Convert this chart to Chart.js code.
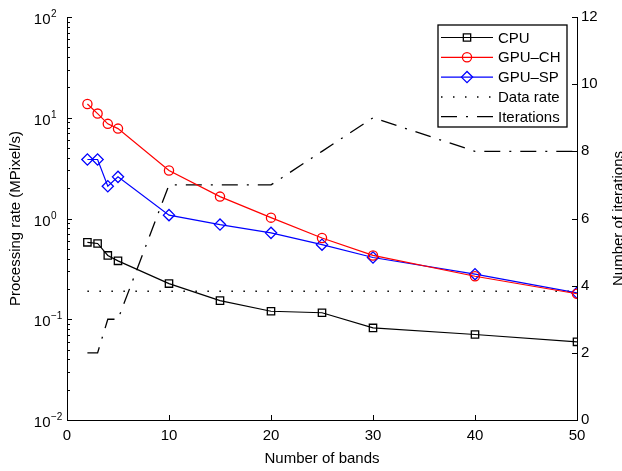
<!DOCTYPE html>
<html>
<head>
<meta charset="utf-8">
<script src="https://cdn.jsdelivr.net/npm/chart.js@4.4.0/dist/chart.umd.min.js"></script>
<style>
  html, body { margin: 0; padding: 0; background: #fff; }
</style>
</head>
<body>
<canvas id="myChart" width="622" height="471"></canvas>
<script>
// values
const bands = [2, 3, 4, 5, 10, 15, 20, 25, 30, 40, 50];
const cpuRate = [0.58, 0.565, 0.43, 0.38, 0.226, 0.153, 0.12, 0.116, 0.082, 0.0706, 0.0597];
const gpuChRate = [13.7, 11.0, 8.7, 7.8, 3.0, 1.65, 1.02, 0.64, 0.43, 0.267, 0.179];
const gpuSpRate = [3.85, 3.85, 2.09, 2.59, 1.08, 0.87, 0.72, 0.55, 0.41, 0.28, 0.183];
const dataRate = [0.19, 0.19, 0.19, 0.19, 0.19, 0.19, 0.19, 0.19, 0.19, 0.19, 0.19];
const iterations = [2, 2, 3, 3, 7, 7, 7, 8, 9, 8, 8];

const xTicks = [0, 10, 20, 30, 40, 50];
const rateTicks = [0.01, 0.1, 1, 10, 100];
const rateExponents = ["\u22122", "\u22121", "0", "1", "2"];
const iterTicks = [0, 2, 4, 6, 8, 10, 12];

const FONT = "'Liberation Sans', Arial, Helvetica, sans-serif";
Chart.defaults.font.family = FONT;
Chart.defaults.font.size = 15;
Chart.defaults.color = "#000";

const pts = (ys) => bands.map((b, i) => ({ x: b, y: ys[i] }));
const clear = "rgba(0,0,0,0)";

// inward tick marks + left "10^n" labels, matlab style
const axisDecor = {
  id: "axisDecor",
  afterDraw(chart) {
    const { ctx, chartArea: a, scales } = chart;
    const x = scales.x, y = scales.y, y1 = scales.y1;
    ctx.save();
    ctx.strokeStyle = "#000";
    ctx.lineWidth = 1;
    ctx.beginPath();
    xTicks.forEach((v) => {
      const px = Math.round(x.getPixelForValue(v)) + 0.5;
      ctx.moveTo(px, a.bottom);
      ctx.lineTo(px, a.bottom - 5);
    });
    for (let e = -2; e < 2; e++) {
      for (let m = 1; m < 10; m++) {
        const py = Math.round(y.getPixelForValue(m * Math.pow(10, e))) + 0.5;
        ctx.moveTo(a.left, py);
        ctx.lineTo(a.left + (m === 1 ? 5 : 3), py);
      }
    }
    const top = Math.round(y.getPixelForValue(100)) + 0.5;
    ctx.moveTo(a.left, top);
    ctx.lineTo(a.left + 5, top);
    iterTicks.forEach((v) => {
      const py = Math.round(y1.getPixelForValue(v)) + 0.5;
      ctx.moveTo(a.right, py);
      ctx.lineTo(a.right - 5, py);
    });
    ctx.stroke();

    ctx.fillStyle = "#000";
    ctx.textBaseline = "alphabetic";
    rateTicks.forEach((v, i) => {
      const py = y.getPixelForValue(v);
      ctx.font = "15px " + FONT;
      ctx.textAlign = "right";
      ctx.fillText("10", 50.5, py + 7);
      ctx.font = "10px " + FONT;
      ctx.textAlign = "left";
      ctx.fillText(rateExponents[i], 51, py);
    });

    // right axis title, reading bottom to top
    ctx.save();
    ctx.translate(623, (a.top + a.bottom) / 2);
    ctx.rotate(-Math.PI / 2);
    ctx.font = "15px " + FONT;
    ctx.textAlign = "center";
    ctx.fillText("Number of iterations", 0, 0);
    ctx.restore();
    ctx.restore();
  },
};

// boxed legend with line + marker samples
const boxLegend = {
  id: "boxLegend",
  afterDraw(chart) {
    const ctx = chart.ctx;
    const bx = 438, by = 25, bw = 129, bh = 102;
    ctx.save();
    ctx.fillStyle = "#fff";
    ctx.fillRect(bx, by, bw, bh);
    ctx.strokeStyle = "#000";
    ctx.lineWidth = 1.3;
    ctx.strokeRect(bx, by, bw, bh);
    chart.data.datasets.forEach((ds, i) => {
      const ry = 37.5 + i * 19.8;
      ctx.save();
      ctx.strokeStyle = ds.borderColor;
      ctx.lineWidth = ds.borderWidth;
      ctx.setLineDash(ds.borderDash || []);
      ctx.beginPath();
      ctx.moveTo(441, ry);
      ctx.lineTo(493, ry);
      ctx.stroke();
      ctx.restore();
      if (ds.pointRadius > 0) {
        ctx.save();
        ctx.strokeStyle = ds.borderColor;
        ctx.fillStyle = clear;
        Chart.helpers.drawPoint(ctx, {
          pointStyle: ds.pointStyle,
          radius: ds.pointRadius,
          rotation: 0,
          borderWidth: ds.pointBorderWidth,
        }, 467, ry);
        ctx.restore();
      }
      ctx.fillStyle = "#000";
      ctx.font = "15px " + FONT;
      ctx.textAlign = "left";
      ctx.textBaseline = "middle";
      ctx.fillText(ds.label, 498, ry + 1);
    });
    ctx.restore();
  },
};

new Chart(document.getElementById("myChart").getContext("2d"), {
  type: "line",
  data: {
    datasets: [
      {
        label: "CPU",
        data: pts(cpuRate),
        yAxisID: "y",
        borderColor: "#000",
        borderWidth: 1.2,
        pointStyle: "rect",
        pointRadius: 5.2,
        pointBorderWidth: 1.3,
        pointBackgroundColor: clear,
        tension: 0,
      },
      {
        label: "GPU\u2013CH",
        data: pts(gpuChRate),
        yAxisID: "y",
        borderColor: "#ff0000",
        borderWidth: 1.2,
        pointStyle: "circle",
        pointRadius: 4.6,
        pointBorderWidth: 1.3,
        pointBackgroundColor: clear,
        tension: 0,
      },
      {
        label: "GPU\u2013SP",
        data: pts(gpuSpRate),
        yAxisID: "y",
        borderColor: "#0000ff",
        borderWidth: 1.2,
        pointStyle: "rectRot",
        pointRadius: 5.6,
        pointBorderWidth: 1.3,
        pointBackgroundColor: clear,
        tension: 0,
      },
      {
        label: "Data rate",
        data: pts(dataRate),
        yAxisID: "y",
        borderColor: "#000",
        borderWidth: 1.5,
        borderDash: [1.5, 10.5],
        pointRadius: 0,
        tension: 0,
      },
      {
        label: "Iterations",
        data: pts(iterations),
        yAxisID: "y1",
        borderColor: "#000",
        borderWidth: 1.3,
        borderDash: [16, 9, 2, 9],
        pointRadius: 0,
        tension: 0,
      },
    ],
  },
  options: {
    responsive: false,
    animation: false,
    layout: { padding: { top: 17, right: 0, left: 0, bottom: 0 } },
    plugins: {
      legend: { display: false },
      tooltip: { enabled: false },
    },
    scales: {
      x: {
        type: "linear",
        position: "bottom",
        min: 0,
        max: 50,
        afterBuildTicks: (s) => { s.ticks = xTicks.map((v) => ({ value: v })); },
        afterFit: (s) => { s.height = 51; },
        grid: { display: false, drawTicks: false },
        border: { display: true, color: "#000", width: 1 },
        ticks: { color: "#000", padding: 7, maxRotation: 0 },
        title: { display: true, text: "Number of bands", color: "#000", padding: { top: 0, bottom: 3 } },
      },
      y: {
        type: "logarithmic",
        position: "left",
        min: 0.01,
        max: 100,
        afterBuildTicks: (s) => { s.ticks = rateTicks.map((v) => ({ value: v })); },
        afterFit: (s) => { s.width = 67; },
        grid: { display: false, drawTicks: false },
        border: { display: true, color: "#000", width: 1 },
        ticks: { display: false },
        title: { display: true, text: "Processing rate (MPixel/s)", color: "#000", padding: { top: 7, bottom: 0 } },
      },
      y1: {
        type: "linear",
        position: "right",
        min: 0,
        max: 12,
        afterBuildTicks: (s) => { s.ticks = iterTicks.map((v) => ({ value: v })); },
        afterFit: (s) => { s.width = 45; },
        grid: { display: false, drawTicks: false },
        border: { display: true, color: "#000", width: 1 },
        ticks: { color: "#000", padding: 4 },
      },
    },
  },
  plugins: [axisDecor, boxLegend],
});
</script>
</body>
</html>
